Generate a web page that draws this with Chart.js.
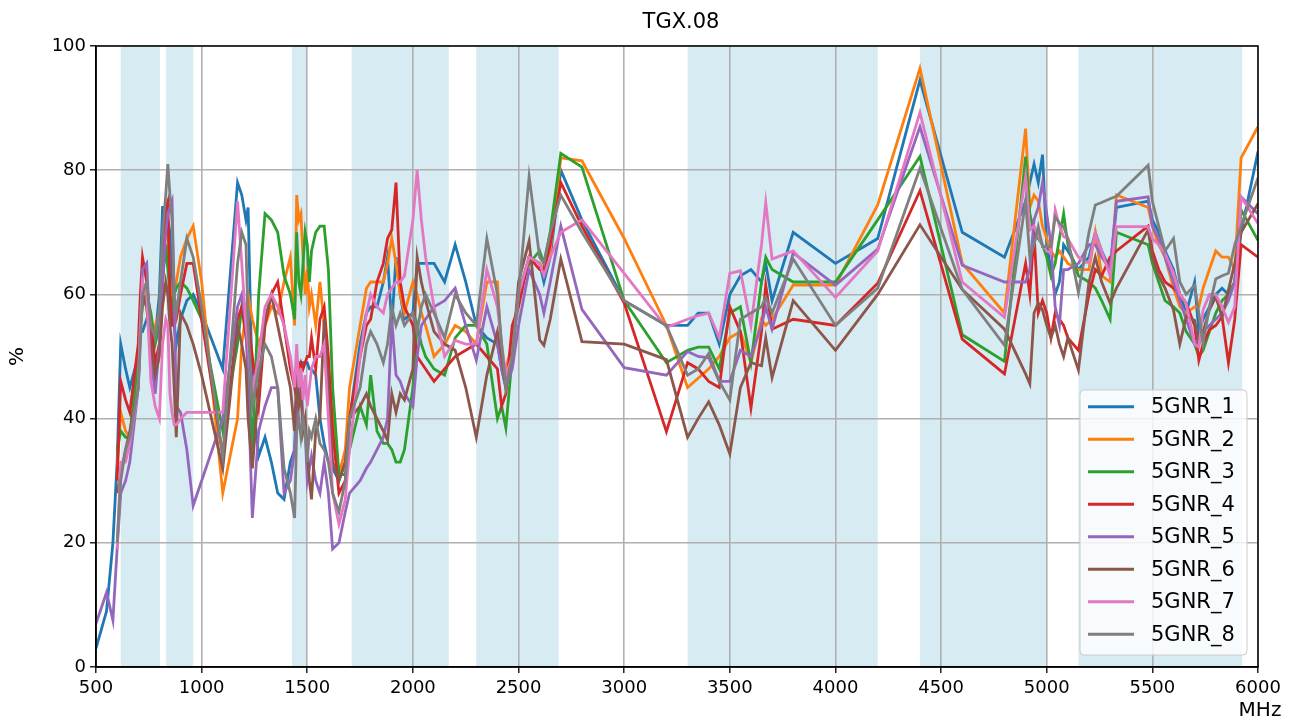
<!DOCTYPE html>
<html>
<head>
<meta charset="utf-8">
<script src="https://cdn.jsdelivr.net/npm/chart.js@4.4.1/dist/chart.umd.min.js"></script>
<style>
  html, body { margin: 0; padding: 0; background: #fff; }
  canvas { display: block; }
</style>
</head>
<body>
<canvas id="myChart" width="1299" height="722"></canvas>
<script>
// measurement frequencies (MHz), shared by all series
const freqs = [
  500, 550, 580, 600, 617, 640, 660, 700, 710, 720, 740, 760, 780, 800, 815, 830, 840, 850, 860, 870, 880, 900, 930, 960, 1000,
  1100, 1170, 1190, 1210, 1220, 1240, 1270, 1300, 1330, 1360, 1390, 1420, 1440, 1450, 1460, 1470, 1480, 1490, 1500, 1510, 1520, 1540, 1560, 1580, 1600, 1620, 1650, 1680, 1700,
  1750, 1780, 1800, 1830, 1860, 1880, 1900, 1920, 1940, 1960, 2000, 2020, 2040, 2060, 2100, 2150, 2200, 2250, 2300, 2350, 2400, 2420, 2440, 2470, 2500, 2550, 2600, 2620, 2650, 2700,
  2800, 3000, 3200, 3300, 3350, 3400, 3450, 3500, 3550, 3600, 3650, 3670, 3700, 3800, 4000, 4200, 4400,
  4600, 4800, 4900, 4920, 4940, 4960, 4980, 5000, 5020, 5040, 5060, 5080, 5100,
  5150, 5200, 5230, 5260, 5300, 5330, 5480, 5500, 5530, 5560, 5600, 5630, 5660, 5700, 5720, 5740, 5770, 5800, 5830, 5860, 5890, 5920, 6000
];

// efficiency in %, one array per antenna
const gnr1 = [
  3, 9, 20, 33, 52, 48, 45, 50, 54, 54, 56, 55, 53, 60, 74, 74, 72, 70, 62, 55, 52, 56, 59, 60, 57,
  48, 78, 76, 72, 74, 44, 34, 37, 33, 28, 27, 33, 35, 45, 49, 49, 49, 49, 49, 48, 48, 47, 40, 36, 33, 32, 30, 33, 40,
  52, 57, 58, 58, 62, 66, 55, 66, 60, 56, 57, 65, 65, 65, 65, 62, 68, 62, 55, 53, 52, 48, 45, 52, 60, 66, 65, 62, 66, 80,
  72, 59, 55, 55, 57, 57, 52, 60, 63, 64, 62, 65, 59, 70, 65, 69, 94.5,
  70, 66, 75, 78, 81, 78, 82.5, 68, 64, 60, 62, 68, 67,
  64, 66, 70, 67, 64, 74, 75, 72, 70, 67, 64, 60, 57, 62, 54, 56, 58, 60, 61, 60, 62, 70, 83
];
const gnr2 = [
  null, null, null, 32, 41, 38, 37, 50, 58, 62, 58, 50, 55, 57, 62, 72, 70, 62, 58, 60, 62, 66, 69, 71, 62,
  28, 40, 52, 57, 60, 56, 52, 55, 58, 57, 62, 66, 55, 76, 72, 73, 66, 60, 64, 58, 60, 55, 62, 55, 47, 40, 31, 35, 45,
  55, 61, 62, 62, 62, 65, 69, 65, 60, 57, 62, 60, 57, 55, 50, 52, 55, 54, 52, 62, 62, 50, 48, 52, 59, 66, 65, 64, 67, 82,
  81.5, 69, 55, 45, 46.5, 48, 50, 53, 54, 49, 56, 55, 56, 61.5, 61.5, 74.4, 96.4,
  65, 57, 86.7, 74, 76, 75, 71, 69, 67, 66, 67, 66, 65,
  64, 64, 70, 63, 62, 76, 74, 71, 68, 66, 61, 58, 57, 58, 58, 61, 64, 67, 66, 66, 64, 82, 87
];
const gnr3 = [
  null, null, null, 35, 38, 37, 37, 50, 55, 58, 60, 57, 52, 55, 62, 68, 64, 60, 58, 60, 61, 62, 61, 59, 56,
  38, 52, 58, 55, 48, 35, 60, 73, 72, 70, 63, 60, 56, 70, 62, 60, 65, 70, 68, 62, 67, 70, 71, 71, 64, 45, 31, 31, 35,
  42, 39, 47, 38, 36, 36, 35, 33, 33, 35, 45, 55, 52, 50, 48, 47, 53, 55, 55, 52, 40, 42, 38.5, 50, 60, 65, 67, 65, 70, 82.7,
  80.5, 59, 49, 51, 51.5, 51.5, 48, 57, 58, 49, 62, 66, 64, 62, 62, 72, 82.2,
  53.5, 49.2, 82.2, 73, 70, 69, 68, 66, 63, 65, 69, 73, 68,
  63, 62, 61, 59, 56, 70, 68, 65, 62, 59, 58, 57, 54, 52, 50, 51, 54, 57, 59, 60, 62, 73.6, 68.7
];
const gnr4 = [
  null, null, null, 30, 46, 43, 41, 52, 60, 66, 62, 55, 49, 52, 62, 74, 75, 60, 55, 55, 56, 60, 65, 65, 56,
  34, 56, 58, 53, 56, 50, 42, 55, 60, 62, 55, 48, 45, 43, 48, 49, 48, 49, 50, 50, 53, 48, 56, 58, 50, 38, 28, 30, 40,
  50, 55, 56, 62, 65, 69, 70.4, 78, 62, 58, 55, 50, 49, 48, 46, 48, 50, 51, 52, 50, 48, 42, 44, 55, 58, 66, 64, 64, 68, 78,
  71, 58.6, 37.9, 49, 48, 46, 45, 58, 54, 41.7, 54, 61.5, 54.4, 56, 55, 61.8, 76.7,
  52.8, 47.2, 65, 60, 70, 57, 59, 57, 53, 57, 56, 55, 53,
  51, 60, 64, 63, 66, 67, 71, 67, 64, 62, 61, 60, 58.6, 55, 49.4, 52, 54.3, 55, 56.4, 49, 56, 68, 66
];
const gnr5 = [
  7, 12, 7.5, 19, 28, 30, 33, 45, 55, 64, 65, 50, 44, 52, 62, 70, 73, 74, 75, 60, 42, 41, 35, 26, 30,
  40, 58, 60, 55, 45, 24, 38, 42, 45, 45, 28, 30, 35, 40, 44, 46, 40, 38, 30, 32, 34, 30, 28, 33, 28, 19, 20, 25, 28,
  30, 32, 33, 35, 37, 40, 56, 47, 46, 44, 42, 50, 55, 56, 58, 59, 61, 55, 49.4, 58, 52, 48, 45, 48, 55, 64, 60, 57, 62, 71,
  57.6, 48.2, 47, 50.8, 50, 49.8, 46, 46, 51, 50, 55, 58, 54.4, 66.7, 61.5, 67.3, 87,
  64.7, 62, 62, 64, 72, 74, 78, 73, 68, 58, 55, 64, 64,
  65, 68, 68, 66, 64, 75, 75.7, 71, 69, 66, 62, 59, 56, 52, 53, 54, 55, 56, 57, 59, 62, 75.7, 73
];
const gnr6 = [
  null, null, null, 28, 31, 35, 38, 45, 55, 60, 58, 52, 47, 50, 58, 62, 60, 55, 52, 45, 37, 57, 55, 52, 47,
  32, 55, 52, 48, 40, 32, 45, 56, 60, 55, 50, 45, 38, 47, 42, 44, 38, 40, 35, 30, 27, 38, 40, 56, 45, 33, 30, 33, 40,
  42, 44, 42, 40, 38, 36.5, 44, 41, 44, 43, 48, 66, 62, 59, 54, 52, 51, 45, 37, 47, 54, 50, 45, 50, 62, 68.6, 52.7, 51.8, 56, 65.7,
  52.4, 52, 49.5, 37, 40, 42.7, 39, 34.3, 45, 49, 48.5, 53, 46.6, 59, 51, 60, 71.2,
  60.8, 54.4, 47.2, 45.6, 57, 58.6, 57.5, 55, 53, 55, 52, 50, 53,
  47.8, 62, 66, 62, 58.6, 61, 70.4, 66, 63, 61, 57.5, 52, 56.4, 55.8, 52, 54, 57.5, 59.6, 56.4, 60.7, 65, 70, 74.6
];
const gnr7 = [
  null, null, null, 19, 33, 33, 36, 45, 55, 62, 60, 46, 42, 40, 52, 56, 55, 44, 41, 39, 39, 40, 41, 41, 41,
  41, 75, 65, 55, 52, 44, 50, 58, 60, 58, 55, 50, 45, 52, 45, 48, 43, 47, 42, 45, 48, 50, 50, 52, 40, 28, 23, 27, 35,
  50, 57, 60, 58, 57, 60, 61, 62, 62, 63, 72, 80, 72, 66, 58, 50, 52.6, 52, 52, 64, 58, 52, 47, 50, 60, 66, 65, 63, 66, 70,
  72, 63.4, 54.7, 56, 56.6, 57, 53, 63.4, 63.8, 55, 68, 74.8, 65.7, 67, 59.5, 67, 89.3,
  62, 56.3, 79, 70.4, 71, 69.5, 68, 67, 66.6, 73.6, 71, 69.3, 69,
  66, 65, 69.8, 67, 63, 70.9, 70.9, 69, 68, 66.6, 63.5, 60, 58.6, 52, 51.5, 57.5, 60, 60, 58, 55.5, 58, 75.7, 71.4
];
const gnr8 = [
  null, null, null, 20, 30, 35, 37, 45, 52, 60, 62, 55, 53, 58, 70, 76, 81, 76, 72, 60, 57, 62, 69, 66, 58,
  34, 65, 70, 68, 55, 42, 48, 52, 50, 45, 32, 28, 24, 38, 40, 37, 40, 38, 33, 38, 37, 40, 36, 35, 33, 28, 25, 30, 40,
  45, 52, 54, 52, 49, 52, 58, 55, 57, 55, 57, 54, 58, 60, 57, 53, 60, 57, 55, 69, 60, 52, 45, 50, 60, 79, 66, 65, 70, 76,
  70, 59, 55, 47, 48, 50.5, 46, 43, 56, 57, 58, 59.5, 57, 65.7, 55, 61, 80.3,
  60.8, 51.8, 75, 66, 68, 70.9, 67.7, 67.7, 67.7, 72.5, 71.5, 70.9, 69,
  60.3, 70, 74.4, 74.8, 75.4, 75.8, 80.8, 75, 71, 67, 69, 62, 60, 61.5, 57, 52, 58, 62.5, 63, 63.4, 68, 71, 78.8
];

const seriesNames = ["5GNR_1", "5GNR_2", "5GNR_3", "5GNR_4", "5GNR_5", "5GNR_6", "5GNR_7", "5GNR_8"];
const seriesValues = [gnr1, gnr2, gnr3, gnr4, gnr5, gnr6, gnr7, gnr8];
const colors = ["#1f77b4", "#ff7f0e", "#2ca02c", "#d62728", "#9467bd", "#8c564b", "#e377c2", "#7f7f7f"];

// shaded frequency bands [start, end] in MHz
const bands = [[617, 803], [832, 960], [1427, 1496], [1710, 2170], [2300, 2690], [3300, 4200], [4400, 5000], [5150, 5925]];

const xTicks = [500, 1000, 1500, 2000, 2500, 3000, 3500, 4000, 4500, 5000, 5500, 6000];
const yTicks = [0, 20, 40, 60, 80, 100];

const FONT = "DejaVu Sans";

function toPoints(vals) {
  const pts = [];
  vals.forEach((v, i) => { if (v !== null) pts.push({ x: freqs[i], y: v }); });
  return pts;
}

// white background + light blue bands under the grid
const bandsPlugin = {
  id: "bands",
  beforeDraw(chart) {
    const c = chart.ctx, a = chart.chartArea, xs = chart.scales.x;
    c.save();
    c.fillStyle = "#fff";
    c.fillRect(0, 0, chart.width, chart.height);
    c.fillStyle = "rgba(173,216,230,0.5)";
    bands.forEach(([s, e]) => {
      const x0 = xs.getPixelForValue(s), x1 = xs.getPixelForValue(e);
      c.fillRect(x0, a.top, x1 - x0, a.bottom - a.top);
    });
    c.restore();
  }
};

// frame, title, axis labels, legend
const decoPlugin = {
  id: "deco",
  afterDatasetsDraw(chart) {
    const c = chart.ctx, a = chart.chartArea;
    c.save();
    c.strokeStyle = "#000";
    c.lineWidth = 1.5;
    c.strokeRect(a.left, a.top, a.right - a.left, a.bottom - a.top);
    c.restore();
  },
  afterDraw(chart) {
    const c = chart.ctx, a = chart.chartArea;
    c.save();
    c.fillStyle = "#000";
    c.textAlign = "center";
    c.textBaseline = "middle";
    c.font = "21px '" + FONT + "'";
    c.fillText("TGX.08", (a.left + a.right) / 2 + 4, 23);

    c.font = "20px '" + FONT + "'";
    c.fillText("MHz", 1260, 711);
    c.save();
    c.translate(18, (a.top + a.bottom) / 2);
    c.rotate(-Math.PI / 2);
    c.fillText("%", 0, 0);
    c.restore();

    // legend box
    const lx = 1080, ly = 390, lw = 167, lh = 265, r = 4;
    c.beginPath();
    c.moveTo(lx + r, ly);
    c.arcTo(lx + lw, ly, lx + lw, ly + lh, r);
    c.arcTo(lx + lw, ly + lh, lx, ly + lh, r);
    c.arcTo(lx, ly + lh, lx, ly, r);
    c.arcTo(lx, ly, lx + lw, ly, r);
    c.closePath();
    c.fillStyle = "rgba(255,255,255,0.8)";
    c.fill();
    c.strokeStyle = "#cccccc";
    c.lineWidth = 1;
    c.stroke();

    c.font = "21px '" + FONT + "'";
    c.textAlign = "left";
    chart.data.datasets.forEach((ds, i) => {
      const y = 406.7 + i * 32.5;
      c.strokeStyle = ds.borderColor;
      c.lineWidth = 3;
      c.beginPath();
      c.moveTo(1088, y);
      c.lineTo(1134, y);
      c.stroke();
      c.fillStyle = "#000";
      c.fillText(ds.label, 1151, y + 1);
    });
    c.restore();
  }
};

window.addEventListener("DOMContentLoaded", () => {
  const ctx = document.getElementById("myChart").getContext("2d");
  new Chart(ctx, {
    type: "line",
    data: {
      datasets: seriesNames.map((name, i) => ({
        label: name,
        data: toPoints(seriesValues[i]),
        borderColor: colors[i],
        backgroundColor: colors[i],
        borderWidth: 2.8,
        pointRadius: 0,
        tension: 0,
        fill: false,
        order: -i, // later series on top
      })),
    },
    options: {
      responsive: false,
      animation: false,
      devicePixelRatio: 1,
      layout: { padding: { top: 46, right: 41, left: 0, bottom: 0 } },
      plugins: {
        legend: { display: false },
        title: { display: false },
        tooltip: { enabled: false },
      },
      scales: {
        x: {
          type: "linear",
          min: 500,
          max: 6000,
          afterBuildTicks: (s) => { s.ticks = xTicks.map(v => ({ value: v })); },
          afterFit: (s) => { s.height = 55; },
          ticks: {
            color: "#000",
            font: { family: FONT, size: 18 },
            padding: 5,
            maxRotation: 0,
            autoSkip: false,
            callback: (v) => String(v),
          },
          grid: { color: "#b0b0b0", lineWidth: 1.6, tickColor: "#000", tickLength: 6, tickWidth: 1.3 },
          border: { color: "#000", width: 1.5 },
        },
        y: {
          min: 0,
          max: 100,
          afterBuildTicks: (s) => { s.ticks = yTicks.map(v => ({ value: v })); },
          afterFit: (s) => { s.width = 96; },
          ticks: {
            color: "#000",
            font: { family: FONT, size: 18 },
            padding: 4,
            callback: (v) => String(v),
          },
          grid: { color: "#b0b0b0", lineWidth: 1.6, tickColor: "#000", tickLength: 6, tickWidth: 1.3 },
          border: { color: "#000", width: 1.5 },
        },
      },
    },
    plugins: [bandsPlugin, decoPlugin],
  });
});
</script>
</body>
</html>
